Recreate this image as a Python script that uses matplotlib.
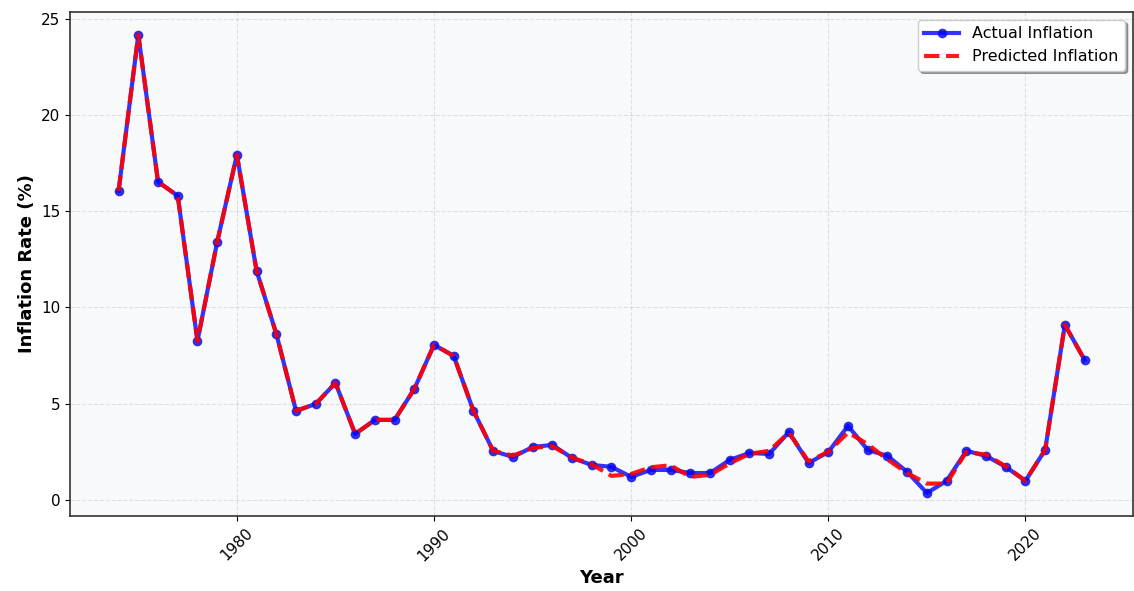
import matplotlib
matplotlib.use("Agg")
import matplotlib.pyplot as plt

# yearly inflation, actual vs model prediction
years = list(range(1974, 2024))
actual = [16.06, 24.17, 16.53, 15.80, 8.26, 13.40, 17.93, 11.90, 8.63, 4.63,
          4.99, 6.08, 3.43, 4.16, 4.16, 5.77, 8.06, 7.48, 4.63, 2.55,
          2.23, 2.75, 2.86, 2.18, 1.82, 1.72, 1.20, 1.56, 1.56, 1.40,
          1.40, 2.08, 2.44, 2.39, 3.53, 1.92, 2.49, 3.85, 2.60, 2.29,
          1.46, 0.36, 0.99, 2.55, 2.29, 1.72, 0.99, 2.60, 9.10, 7.28]
predicted = [16.06, 24.17, 16.53, 15.80, 8.26, 13.40, 17.93, 11.90, 8.63, 4.63,
             4.99, 6.08, 3.43, 4.16, 4.16, 5.77, 8.06, 7.48, 4.63, 2.55,
             2.30, 2.70, 2.80, 2.20, 1.85, 1.25, 1.35, 1.70, 1.80, 1.20,
             1.30, 1.90, 2.40, 2.55, 3.50, 2.00, 2.50, 3.50, 2.90, 2.10,
             1.40, 0.85, 0.85, 2.50, 2.35, 1.75, 1.00, 2.60, 9.10, 7.28]

fig, ax = plt.subplots(figsize=(11.34, 5.91), dpi=100)
ax.set_facecolor("#f8f9fa")

ax.plot(years, actual, color="blue", marker="o", markersize=6,
        markeredgecolor="#1a1acc", linewidth=3, alpha=0.8,
        label="Actual Inflation")
ax.plot(years, predicted, color="red", linestyle="--",
        linewidth=3, alpha=0.9, label="Predicted Inflation")

ax.set_xlabel("Year", fontsize=13, fontweight="bold")
ax.set_ylabel("Inflation Rate (%)", fontsize=13, fontweight="bold")
ax.grid(True, linestyle="--", alpha=0.35)
ax.tick_params(axis="x", rotation=45)
ax.tick_params(labelsize=11)
for s in ax.spines.values():
    s.set_color("#333333")
    s.set_linewidth(1.2)

ax.legend(loc="upper right", fontsize=11.5, frameon=True, shadow=True,
          fancybox=True, handlelength=2.2)

plt.subplots_adjust(left=0.062, right=0.999, top=0.98, bottom=0.127)
plt.savefig("out.png", dpi=100)
